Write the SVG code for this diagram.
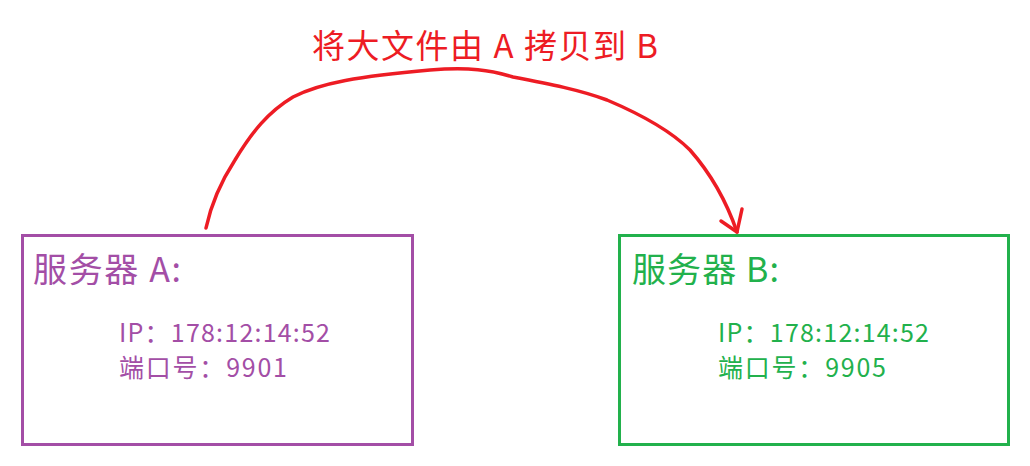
<svg xmlns="http://www.w3.org/2000/svg" width="1030" height="466" viewBox="0 0 1030 466">
<style>
text{font-family:"Noto Sans CJK SC","Noto Sans",sans-serif;}
.a{fill:#a34ea6;}
.b{fill:#22b14c;}
.boxa{fill:none;stroke:#a34ea6;stroke-width:3;}
.boxb{fill:none;stroke:#22b14c;stroke-width:3;}
.t{font-size:34px;}
.s{font-size:25px;}
.conn{fill:none;stroke:#ed1c24;stroke-width:3.5;stroke-linecap:round;stroke-linejoin:round;}
</style>
<rect width="1030" height="466" fill="#fff"/>
<g id="title">
<text x="312" y="58" font-size="33" fill="#ed1c24" textLength="346" lengthAdjust="spacing">将大文件由 A 拷贝到 B</text>
</g>
<g id="serverA">
<rect class="boxa" x="22.5" y="235.5" width="390" height="209"/>
<text class="a t" x="33" y="282" textLength="148" lengthAdjust="spacing">服务器 A:</text>
<text class="a s" x="119" y="342" textLength="211" lengthAdjust="spacing">IP：178:12:14:52</text>
<text class="a s" x="119" y="377" textLength="168" lengthAdjust="spacing">端口号：9901</text>
</g>
<g id="serverB">
<rect class="boxb" x="619.5" y="235.5" width="389" height="209"/>
<text class="b t" x="632" y="282" textLength="147" lengthAdjust="spacing">服务器 B:</text>
<text class="b s" x="718" y="342" textLength="211" lengthAdjust="spacing">IP：178:12:14:52</text>
<text class="b s" x="718" y="377" textLength="168" lengthAdjust="spacing">端口号：9905</text>
</g>
<g id="connectors">
<path class="conn" d="M206,228 C212,200 222,180 235,160 C252,132 268,112 293,97 C320,83 360,76 430,70 C470,67 490,70 513,77 C550,84 580,90 607,100 C640,114 670,130 690,150 C712,175 726,200 737,232"/>
<path class="conn" d="M721,221 L737,232 L742,209"/>
</g>
</svg>
